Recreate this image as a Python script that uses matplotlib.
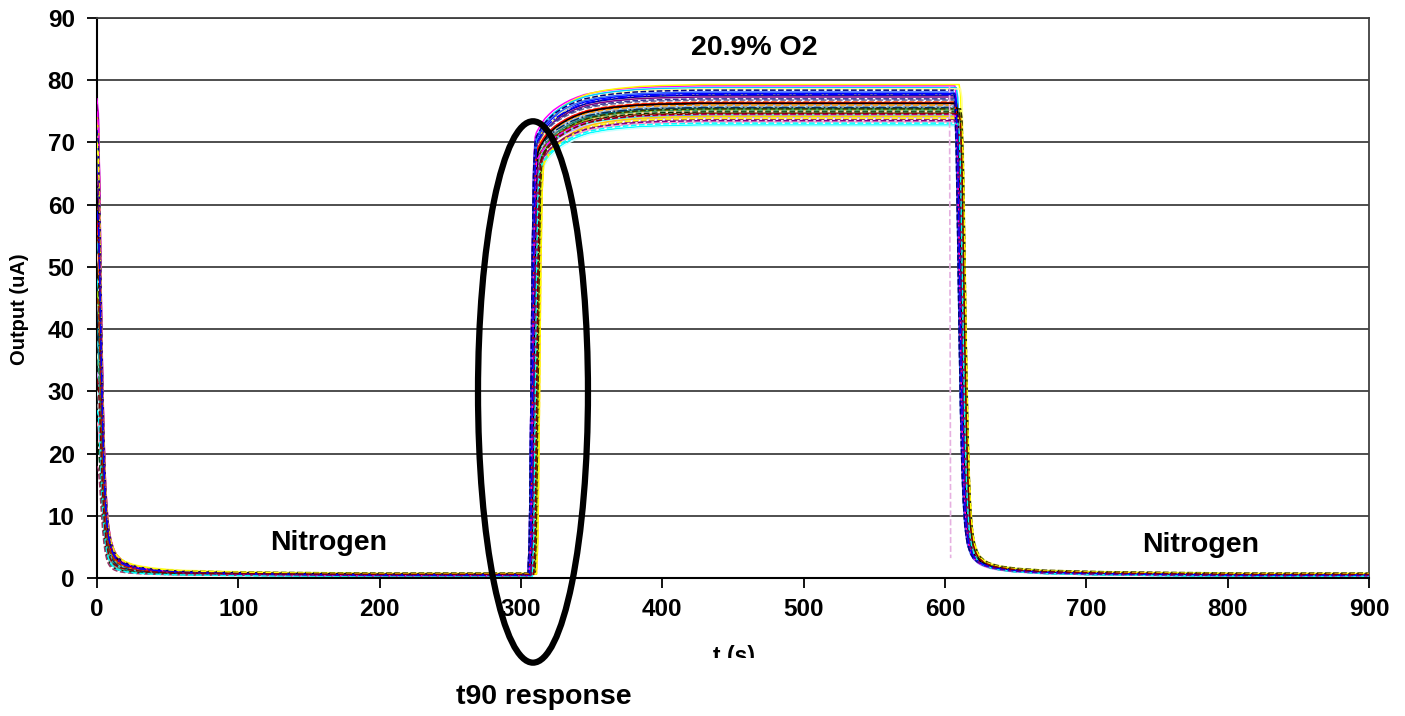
import numpy as np
import matplotlib
matplotlib.use("Agg")
import matplotlib.pyplot as plt
from matplotlib.patches import Ellipse, Rectangle

plt.rcParams['font.family'] = ['Liberation Sans', 'DejaVu Sans']
plt.rcParams['font.weight'] = 'bold'

# ---- sensor data -----------------------------------------------------------
# Per-sensor levels (uA): starting reading, N2 baseline, 20.9% O2 plateau
sensor_colors = ['#000080', '#FF00FF', '#FFFF00', '#00FFFF', '#800080', '#800000',
                 '#008080', '#0000FF', '#00CCFF', '#CCFFFF', '#CCFFCC', '#FFFF99',
                 '#99CCFF', '#FF99CC', '#CC99FF', '#FFCC99', '#3366FF', '#33CCCC',
                 '#99CC00', '#FFCC00', '#FF9900', '#FF6600', '#666699', '#969696',
                 '#003366', '#339966', '#003300', '#333300', '#993300', '#993366',
                 '#333399', '#FF0000', '#000000', '#FF00FF', '#000080', '#FFFF00',
                 '#00FFFF', '#800080', '#0000FF', '#800000']
sensor_styles = ['-'] * 20 + ['--', '--', '--', '--', '-.', '--', '--', '--', '--', '--',
                              '--', '-', '-', '--', '--', '--', '--', '--', '-.', '--']
start_peak = [62, 77, 71, 48, 76, 58, 40, 66, 54, 30, 36, 69, 44, 25, 33, 52, 73, 38,
              46, 74, 60, 56, 64, 28, 42, 35, 22, 50, 45, 18, 68, 57, 61, 75, 72, 70,
              27, 65, 59, 32]
n2_floor = [0.4, 0.5, 0.7, 0.3, 0.5, 0.6, 0.4, 0.5, 0.3, 0.4, 0.6, 0.8, 0.4, 0.5,
            0.3, 0.6, 0.4, 0.5, 0.7, 0.6, 0.5, 0.4, 0.6, 0.5, 0.4, 0.3, 0.5, 0.8,
            0.6, 0.4, 0.5, 0.5, 0.6, 0.4, 0.5, 0.7, 0.3, 0.4, 0.5, 0.6]
o2_level = [77.6, 79.1, 79.3, 72.8, 77.3, 76.2, 75.5, 77.9, 78.8, 72.6, 74.8, 78.6,
            75.9, 73.3, 74.0, 75.1, 78.1, 74.4, 75.3, 74.2, 76.0, 76.5, 76.8, 75.7,
            75.6, 75.2, 74.9, 75.4, 74.7, 73.7, 77.0, 76.4, 76.3, 74.5, 78.4, 73.9,
            73.1, 73.5, 77.7, 74.6]
# gas switching times seen by each sensor (s)
o2_on = [306, 305, 309, 308, 306, 307, 308, 305, 306, 309, 308, 310, 307, 308, 306,
         309, 305, 307, 310, 311, 306, 307, 305, 308, 306, 307, 309, 310, 306, 308,
         305, 306, 307, 306, 305, 311, 308, 307, 306, 309]
n2_on = [608, 607, 610, 609, 607, 608, 609, 607, 608, 610, 609, 611, 608, 609, 607,
         610, 606, 608, 610, 611, 607, 608, 607, 609, 608, 608, 610, 611, 607, 609,
         606, 607, 608, 607, 606, 611, 609, 608, 607, 610]

# Normalised response shapes (fraction of the step) vs. seconds after the switch
purge_dt = [0, 1, 2, 3, 4, 5, 6, 7, 8, 9, 10, 12, 14, 17, 20, 25, 30, 40, 50, 60,
            80, 100, 130, 160, 200, 250, 295]
purge_frac = [1.0, 0.97, 0.82, 0.60, 0.42, 0.29, 0.20, 0.145, 0.11, 0.088, 0.072,
              0.053, 0.042, 0.033, 0.027, 0.021, 0.017, 0.012, 0.009, 0.007, 0.005,
              0.0035, 0.002, 0.001, 0.0, 0.0, 0.0]
rise_dt = [0, 1, 2, 3, 4, 5, 6, 8, 10, 12, 15, 18, 22, 26, 30, 35, 40, 50, 60, 75,
           90, 120, 200, 280]
rise_frac = [0.0, 0.08, 0.35, 0.66, 0.84, 0.895, 0.905, 0.915, 0.925, 0.933, 0.942,
             0.95, 0.958, 0.965, 0.971, 0.977, 0.982, 0.988, 0.992, 0.996, 0.998,
             1.0, 1.0, 1.0]
fall_dt = [0, 1, 2, 3, 4, 5, 6, 7, 8, 9, 10, 12, 14, 17, 20, 25, 30, 40, 50, 60, 80,
           100, 130, 160, 200, 250, 300]
fall_frac = [1.0, 0.98, 0.88, 0.70, 0.50, 0.34, 0.22, 0.15, 0.105, 0.08, 0.063,
             0.045, 0.035, 0.027, 0.022, 0.017, 0.014, 0.010, 0.008, 0.006, 0.0045,
             0.003, 0.002, 0.001, 0.0, 0.0, 0.0]

# one sensor whose record stops during the switch back to nitrogen
cut_t = [603.2, 604.0]
cut_v = [79.0, 3.2]

# ---- figure ----------------------------------------------------------------
fig = plt.figure(figsize=(14.05, 7.16), dpi=100)
ax = fig.add_axes([0.0690, 0.1927, 0.9054, 0.7822])

purge_dt_a = np.array(purge_dt, float)
rise_dt_a = np.array(rise_dt, float)
fall_dt_a = np.array(fall_dt, float)
for i in range(len(o2_level)):
    fl, pk, lv = n2_floor[i], start_peak[i], o2_level[i]
    t = np.concatenate([purge_dt_a, o2_on[i] + rise_dt_a, n2_on[i] + fall_dt_a])
    v = np.concatenate([fl + (pk - fl) * np.array(purge_frac),
                        fl + (lv - fl) * np.array(rise_frac),
                        fl + (lv - fl) * np.array(fall_frac)])
    ax.plot(t, v, color=sensor_colors[i], ls=sensor_styles[i], lw=1.1, zorder=3)
ax.plot(cut_t, cut_v, color='#E6B0E0', ls='--', lw=1.2, zorder=3)

ax.set_xlim(0, 900)
ax.set_ylim(0, 90)
ax.set_xticks(np.arange(0, 901, 100))
ax.set_yticks(np.arange(0, 91, 10))
ax.grid(axis='y', color='#404040', lw=1.3, zorder=1)
ax.set_axisbelow(True)
for side in ('left', 'bottom'):
    ax.spines[side].set_color('black')
    ax.spines[side].set_linewidth(1.5)
for side in ('right', 'top'):
    ax.spines[side].set_color('#404040')
    ax.spines[side].set_linewidth(1.3)
ax.tick_params(axis='both', direction='out', length=7, width=1.3, colors='black',
               labelsize=17.5)
ax.tick_params(axis='y', pad=9)
ax.tick_params(axis='x', pad=7.5)
for lab in ax.get_xticklabels() + ax.get_yticklabels():
    lab.set_fontweight('bold')

fig.text(20 / 1405, 1 - 309 / 716, 'Output (uA)', rotation=90, ha='center',
         va='center', fontsize=14.5, fontweight='bold')

ax.text(465, 85.2, '20.9% O2', ha='center', va='center', fontsize=20.5,
        fontweight='bold')
ax.text(164, 5.6, 'Nitrogen', ha='center', va='center', fontsize=20.5,
        fontweight='bold')
ax.text(781, 5.3, 'Nitrogen', ha='center', va='center', fontsize=20.5,
        fontweight='bold')

# axis title, partly hidden by the lower margin
fig.text(734 / 1405, 1 - 657 / 716, 't (s)', ha='center', va='center', fontsize=16.5,
         fontweight='bold', zorder=5)
fig.patches.append(Rectangle((0.48, 0.0), 0.1, 1 - 658 / 716, transform=fig.transFigure,
                             facecolor='white', edgecolor='none', zorder=6))

# highlight of the t90 rise
ax.add_patch(Ellipse((308.5, 29.9), 77.8, 87.0, fill=False, edgecolor='black', lw=4.5,
                     clip_on=False, zorder=10))
fig.text(544 / 1405, 1 - 697 / 716, 't90 response', ha='center', va='center',
         fontsize=20.5, fontweight='bold', zorder=7)

fig.savefig('out.png', dpi=100)
